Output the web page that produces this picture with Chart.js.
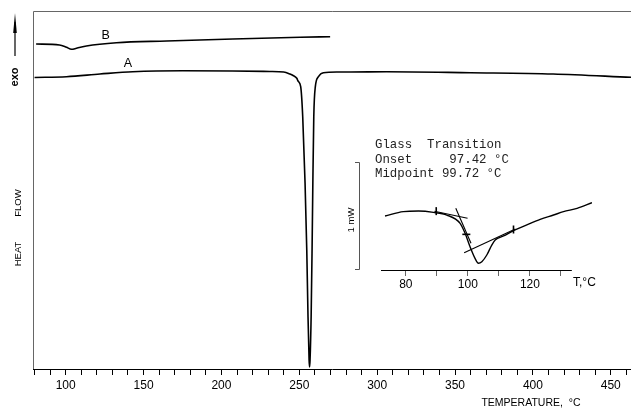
<!DOCTYPE html>
<html lang="en">
<head>
<meta charset="utf-8">
<title>DSC heat flow</title>
<script src="https://cdn.jsdelivr.net/npm/chart.js@4.4.1/dist/chart.umd.min.js"></script>
<style>
    body { margin: 0; background: #fff; }
    #wrap { position: relative; width: 631px; height: 412px; }
    #mainChart { position: absolute; left: 0; top: 0; }
    #insetChart { position: absolute; left: 340px; top: 130px; }
</style>
</head>
<body>
<div id="wrap">
    <canvas id="mainChart" width="631" height="412"></canvas>
    <canvas id="insetChart" width="291" height="170"></canvas>
</div>
<script>
// Curve A (heat flow, arbitrary units)
let tempA = [80, 100.5, 122, 143, 175, 207, 231, 240, 244, 246,
    248.4, 249.2, 250.9, 252.2, 253.7, 254.8, 255.6, 256.3, 256.6, 256.9,
    257.6, 258.2, 258.7, 259.3, 260.3, 262.3, 265.5, 274, 283, 306,
    360, 413, 463];
let flowA = [29.15, 29.23, 29.5, 29.73, 29.83, 29.8, 29.75, 29.7, 29.5, 29.35,
    29.07, 28.8, 28.23, 25.23, 18.6, 11.9, 5.23, 0.9, 0.2, 0.9,
    5.23, 11.9, 18.6, 25.23, 28.23, 29.23, 29.63, 29.7, 29.7, 29.73,
    29.63, 29.5, 29.17];

// Curve B
let tempB = [81, 96, 100.5, 103.7, 106.9, 113.3, 132.6, 164.8, 207.4, 250.5, 269.8];
let flowB = [32.5, 32.4, 32.17, 31.97, 32.07, 32.3, 32.63, 32.8, 33.0, 33.17, 33.23];

let majorTicks = [100, 150, 200, 250, 300, 350, 400, 450];

// Inset: glass transition detail (mW)
let insetTemp = [73.3, 79.2, 84.1, 88.9, 93.2, 97.5, 99.1, 100.7, 102.3, 103.4, 104.5,
    106.1, 107.7, 108.8, 111.5, 114.7, 119.0, 123.3, 127.6, 130.8, 135.2, 140.0];
let insetFlow = [0.50, 0.54, 0.546, 0.534, 0.509, 0.432, 0.34, 0.216, 0.108, 0.062, 0.077,
    0.139, 0.231, 0.278, 0.315, 0.364, 0.417, 0.469, 0.509, 0.54, 0.571, 0.623];

let tangent1T = [89.2, 99.9];
let tangent1V = [0.544, 0.479];
let tangent2T = [96.1, 101.0];
let tangent2V = [0.571, 0.247];
let tangent3T = [98.8, 115.3];
let tangent3V = [0.16, 0.38];

let markT = [89.8, 99.5, 114.7];
let markV = [0.545, 0.33, 0.375];

let insetLabels = [80, 100, 120];
let tgOnset = '97.42';
let tgMid = '99.72';

const toPoints = (xs, ys) => xs.map((x, i) => ({x: x, y: ys[i]}));

let narrow = '"Liberation Sans Narrow", "Liberation Sans", Arial, sans-serif';

// Frame, axis titles and curve names for the main chart
let mainDecor = {
    id: 'mainDecor',
    afterDraw(chart) {
        let ctx = chart.ctx;
        let a = chart.chartArea;
        let xs = chart.scales.x;
        let ys = chart.scales.y;
        ctx.save();
        ctx.strokeStyle = '#666';
        ctx.lineWidth = 1;
        ctx.beginPath();
        ctx.moveTo(a.left + 0.5, a.bottom);
        ctx.lineTo(a.left + 0.5, a.top + 0.5);
        ctx.lineTo(a.right, a.top + 0.5);
        ctx.stroke();

        ctx.fillStyle = '#000';
        ctx.font = '12.5px "Liberation Sans", Arial, sans-serif';
        ctx.textAlign = 'center';
        ctx.textBaseline = 'middle';
        ctx.fillText('A', xs.getPixelForValue(140), ys.getPixelForValue(30.5));
        ctx.fillText('B', xs.getPixelForValue(125.7), ys.getPixelForValue(33.3));

        ctx.font = '10.5px ' + narrow;
        ctx.fillText('TEMPERATURE,  \u00B0C', 531, 403);

        // arrow and rotated labels on the left
        ctx.strokeStyle = '#000';
        ctx.lineWidth = 1.2;
        ctx.beginPath();
        ctx.moveTo(15, 56);
        ctx.lineTo(15, 22);
        ctx.stroke();
        ctx.beginPath();
        ctx.moveTo(15, 13);
        ctx.lineTo(16.8, 33);
        ctx.lineTo(13.2, 33);
        ctx.closePath();
        ctx.fill();

        ctx.save();
        ctx.translate(15, 77);
        ctx.rotate(-Math.PI / 2);
        ctx.font = 'bold 11px "Liberation Sans", Arial, sans-serif';
        ctx.fillText('exo', 0, 0);
        ctx.restore();

        ctx.save();
        ctx.translate(18.5, 228);
        ctx.rotate(-Math.PI / 2);
        ctx.font = '9.5px ' + narrow;
        ctx.fillText('HEAT', -26, 0);
        ctx.fillText('FLOW', 25, 0);
        ctx.restore();
        ctx.restore();
    }
};

let mainChart = new Chart(document.getElementById('mainChart'), {
    type: 'line',
    data: {
        datasets: [
            {label: 'A', data: toPoints(tempA, flowA)},
            {label: 'B', data: toPoints(tempB, flowB)}
        ]
    },
    options: {
        responsive: false,
        animation: false,
        layout: {padding: {left: 33, top: 11, right: 0, bottom: 0}},
        elements: {
            line: {borderColor: '#000', borderWidth: 1.6, cubicInterpolationMode: 'monotone'},
            point: {radius: 0}
        },
        plugins: {legend: {display: false}, tooltip: {enabled: false}},
        scales: {
            x: {
                type: 'linear',
                min: 79,
                max: 463,
                afterFit: (scale) => { scale.height = 43; },
                border: {display: true, color: '#000', width: 1},
                grid: {drawOnChartArea: false, drawTicks: true, tickLength: 6, color: '#000'},
                ticks: {
                    stepSize: 10,
                    includeBounds: false,
                    autoSkip: false,
                    maxRotation: 0,
                    padding: 3,
                    color: '#000',
                    font: {family: narrow, size: 12},
                    callback: (v) => majorTicks.includes(v) ? String(v) : ''
                }
            },
            y: {display: false, min: 0, max: 35.8}
        }
    },
    plugins: [mainDecor]
});

// Inset extras: axis line, 1 mW bar, result text
let insetDecor = {
    id: 'insetDecor',
    afterDraw(chart) {
        let ctx = chart.ctx;
        let a = chart.chartArea;
        let xs = chart.scales.x;
        let ys = chart.scales.y;
        ctx.save();
        ctx.strokeStyle = '#000';
        ctx.lineWidth = 1.2;
        ctx.beginPath();
        ctx.moveTo(xs.getPixelForValue(72), a.bottom + 0.5);
        ctx.lineTo(xs.getPixelForValue(133.5), a.bottom + 0.5);
        ctx.stroke();

        // scale bar spanning 1 mW
        let y0 = ys.getPixelForValue(0);
        let y1 = ys.getPixelForValue(1);
        ctx.strokeStyle = '#555';
        ctx.lineWidth = 1;
        ctx.beginPath();
        ctx.moveTo(15, y1 + 0.5);
        ctx.lineTo(19.5, y1 + 0.5);
        ctx.lineTo(19.5, y0 - 0.5);
        ctx.lineTo(15, y0 - 0.5);
        ctx.stroke();

        ctx.fillStyle = '#000';
        ctx.textBaseline = 'middle';
        ctx.save();
        ctx.translate(11.5, (y0 + y1) / 2 + 4);
        ctx.rotate(-Math.PI / 2);
        ctx.textAlign = 'center';
        ctx.font = '9.5px ' + narrow;
        ctx.fillText('1 mW', 0, 0);
        ctx.restore();

        ctx.textAlign = 'left';
        ctx.font = '12px ' + narrow;
        ctx.fillText('T,\u00B0C', 233, 153);

        ctx.fillStyle = '#222';
        ctx.font = '12.4px "Liberation Mono", "DejaVu Sans Mono", monospace';
        ctx.fillText('Glass  Transition', 35, 15);
        ctx.fillText('Onset     ' + tgOnset + ' \u00B0C', 35, 29.5);
        ctx.fillText('Midpoint ' + tgMid + ' \u00B0C', 35, 44);
        ctx.restore();
    }
};

let insetChart = new Chart(document.getElementById('insetChart'), {
    type: 'line',
    data: {
        datasets: [
            {data: toPoints(insetTemp, insetFlow), cubicInterpolationMode: 'monotone', borderWidth: 1.4},
            {data: toPoints(tangent1T, tangent1V)},
            {data: toPoints(tangent2T, tangent2V)},
            {data: toPoints(tangent3T, tangent3V)},
            {
                data: toPoints(markT, markV),
                showLine: false,
                pointStyle: 'line',
                pointRadius: 4,
                pointBorderWidth: 1.6,
                pointBorderColor: '#000',
                pointRotation: (c) => c.dataIndex === 1 ? 0 : 90
            }
        ]
    },
    options: {
        responsive: false,
        animation: false,
        layout: {padding: {left: 41, top: 32, right: 39, bottom: 0}},
        elements: {
            line: {borderColor: '#000', borderWidth: 1.1, tension: 0},
            point: {radius: 0}
        },
        plugins: {legend: {display: false}, tooltip: {enabled: false}},
        scales: {
            x: {
                type: 'linear',
                min: 72,
                max: 140,
                afterFit: (scale) => { scale.height = 30; },
                afterBuildTicks: (scale) => {
                    scale.ticks = scale.ticks.filter(t => t.value >= 80 && t.value <= 130);
                },
                border: {display: false},
                grid: {drawOnChartArea: false, drawTicks: true, tickLength: 6, color: '#666'},
                ticks: {
                    stepSize: 10,
                    autoSkip: false,
                    maxRotation: 0,
                    padding: 1,
                    color: '#000',
                    font: {family: narrow, size: 12},
                    callback: (v) => insetLabels.includes(v) ? String(v) : ''
                }
            },
            y: {display: false, min: 0, max: 1}
        }
    },
    plugins: [insetDecor]
});
</script>
</body>
</html>
